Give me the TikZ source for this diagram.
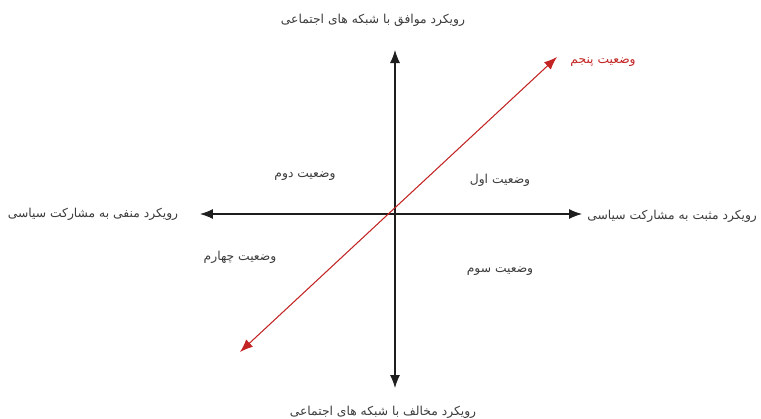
\documentclass[tikz,border=0pt]{standalone}
\usepackage{fontspec}
\usepackage{xcolor}
\usepackage{tikz}
\usetikzlibrary{arrows.meta, positioning}
\TeXXeTstate=1
\newfontfamily\arabicfont[Script=Arabic]{DejaVu Sans}
\definecolor{axgray}{RGB}{30, 30, 30}
\definecolor{txtgray}{RGB}{60, 60, 60}
\definecolor{fred}{RGB}{195, 35, 35}

\begin{document}
\begin{tikzpicture}[
    axis/.style={{Latex[length=2.6mm, width=2mm]}-{Latex[length=2.6mm, width=2mm]}, axgray, semithick},
    lbl/.style={font=\arabicfont\fontsize{7}{9}\selectfont, text=txtgray, inner sep=1pt}
  ]
  \useasboundingbox (-7.9,-4.08) rectangle (7.32,4.28);
  % axis ends
  \coordinate (top) at (0,3.28);
  \coordinate (bot) at (0,-3.48);
  \coordinate (lft) at (-3.9,0);
  \coordinate (rgt) at (3.74,0);
  \coordinate (dlo) at (-3.1,-2.76);
  \coordinate (dhi) at (3.24,3.14);
  % axes
  \draw[axis] (bot) -- (top);
  \draw[axis] (lft) -- (rgt);
  \draw[axis, fred] (dlo) -- (dhi);
  % axis labels
  \node[lbl] (ltop) at (-0.44,3.88) {\beginR رویکرد موافق با شبکه های اجتماعی\endR};
  \node[lbl] (lbot) at (-0.24,-3.96) {\beginR رویکرد مخالف با شبکه های اجتماعی\endR};
  \node[lbl] (llft) at (-6.04,0) {\beginR رویکرد منفی به مشارکت سیاسی\endR};
  \node[lbl, anchor=east] (lrgt) at (7.28,-0.04) {\beginR رویکرد مثبت به مشارکت سیاسی\endR};
  % situations
  \node[lbl, text=fred] (s5) at (4.16,3.04) {\beginR وضعیت پنجم\endR};
  \node[lbl] (s1) at (2.1,0.68) {\beginR وضعیت اول\endR};
  \node[lbl] (s2) at (-1.8,0.76) {\beginR وضعیت دوم\endR};
  \node[lbl] (s3) at (2.1,-1.14) {\beginR وضعیت سوم\endR};
  \node[lbl] (s4) at (-3.1,-0.86) {\beginR وضعیت چهارم\endR};
\end{tikzpicture}
\end{document}
